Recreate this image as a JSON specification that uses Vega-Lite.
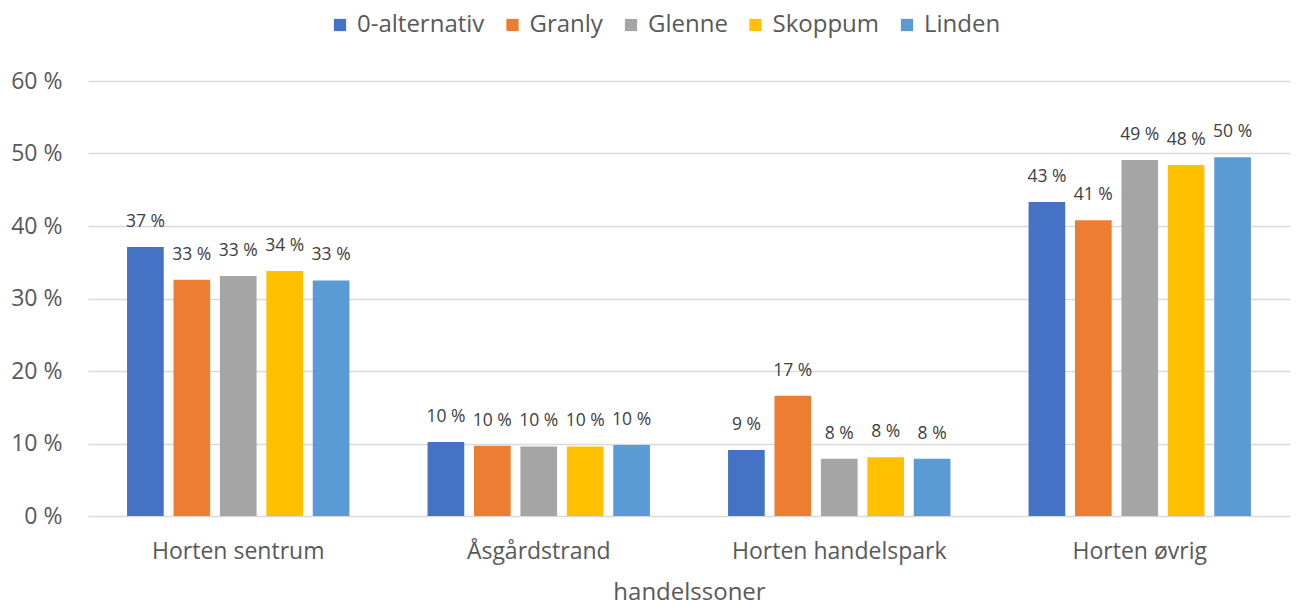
{
  "$schema": "https://vega.github.io/schema/vega-lite/v6.json",
  "width": 1202,
  "height": 435,
  "autosize": {"type": "none"},
  "padding": {"left": 88, "top": 81, "right": 14, "bottom": 90},
  "background": "white",
  "config": {"view": {"stroke": null}},
  "data": {
    "values": [
      {"sone": "Horten sentrum", "alternativ": "0-alternativ", "andel": 37.1},
      {"sone": "Horten sentrum", "alternativ": "Granly", "andel": 32.6},
      {"sone": "Horten sentrum", "alternativ": "Glenne", "andel": 33.1},
      {"sone": "Horten sentrum", "alternativ": "Skoppum", "andel": 33.8},
      {"sone": "Horten sentrum", "alternativ": "Linden", "andel": 32.5},
      {"sone": "Åsgårdstrand", "alternativ": "0-alternativ", "andel": 10.2},
      {"sone": "Åsgårdstrand", "alternativ": "Granly", "andel": 9.7},
      {"sone": "Åsgårdstrand", "alternativ": "Glenne", "andel": 9.6},
      {"sone": "Åsgårdstrand", "alternativ": "Skoppum", "andel": 9.6},
      {"sone": "Åsgårdstrand", "alternativ": "Linden", "andel": 9.8},
      {"sone": "Horten handelspark", "alternativ": "0-alternativ", "andel": 9.1},
      {"sone": "Horten handelspark", "alternativ": "Granly", "andel": 16.6},
      {"sone": "Horten handelspark", "alternativ": "Glenne", "andel": 7.9},
      {"sone": "Horten handelspark", "alternativ": "Skoppum", "andel": 8.1},
      {"sone": "Horten handelspark", "alternativ": "Linden", "andel": 7.9},
      {"sone": "Horten øvrig", "alternativ": "0-alternativ", "andel": 43.3},
      {"sone": "Horten øvrig", "alternativ": "Granly", "andel": 40.8},
      {"sone": "Horten øvrig", "alternativ": "Glenne", "andel": 49.1},
      {"sone": "Horten øvrig", "alternativ": "Skoppum", "andel": 48.4},
      {"sone": "Horten øvrig", "alternativ": "Linden", "andel": 49.5}
    ]
  },
  "encoding": {
    "x": {
      "field": "sone", "type": "nominal",
      "sort": ["Horten sentrum", "Åsgårdstrand", "Horten handelspark", "Horten øvrig"],
      "scale": {"paddingInner": 0.26, "paddingOuter": 0.13},
      "axis": {
        "title": "handelssoner", "labelAngle": 0, "domain": false, "ticks": false, "labelLimit": 400,
        "labelFont": "Open Sans", "labelFontSize": 23, "labelColor": "#595959", "labelPadding": 24,
        "titleFont": "Open Sans", "titleFontSize": 24, "titleFontWeight": "normal", "titleColor": "#595959", "titlePadding": 17
      }
    },
    "xOffset": {
      "field": "alternativ", "type": "nominal",
      "sort": ["0-alternativ", "Granly", "Glenne", "Skoppum", "Linden"],
      "scale": {"paddingInner": 0.21, "paddingOuter": 0}
    },
    "y": {
      "field": "andel", "type": "quantitative",
      "scale": {"domain": [0, 60]},
      "axis": {
        "title": null, "values": [0, 10, 20, 30, 40, 50, 60], "labelExpr": "datum.value + ' %'",
        "domain": false, "ticks": false, "gridColor": "#D9D9D9", "gridWidth": 1.5,
        "labelFont": "Open Sans", "labelFontSize": 23, "labelColor": "#595959", "labelPadding": 26
      }
    }
  },
  "layer": [
    {
      "mark": {"type": "bar"},
      "encoding": {
        "color": {
          "field": "alternativ", "type": "nominal",
          "sort": ["0-alternativ", "Granly", "Glenne", "Skoppum", "Linden"],
          "scale": {"domain": ["0-alternativ", "Granly", "Glenne", "Skoppum", "Linden"], "range": ["#4472C4", "#ED7D31", "#A5A5A5", "#FFC000", "#5B9BD5"]},
          "legend": {
            "title": null, "orient": "none", "direction": "horizontal", "legendX": 240, "legendY": -68,
            "symbolType": "square", "symbolSize": 150, "symbolStrokeWidth": 0, "symbolOpacity": 1,
            "labelFont": "Open Sans", "labelFontSize": 24, "labelColor": "#595959", "labelOffset": 5, "columnPadding": 15.5
          }
        }
      }
    },
    {
      "mark": {"type": "text", "baseline": "middle", "dy": -25, "font": "Open Sans", "fontSize": 17.5, "color": "#404040",
        "text": {"expr": "format(datum.andel, '.0f') + ' %'"}}
    }
  ]
}
